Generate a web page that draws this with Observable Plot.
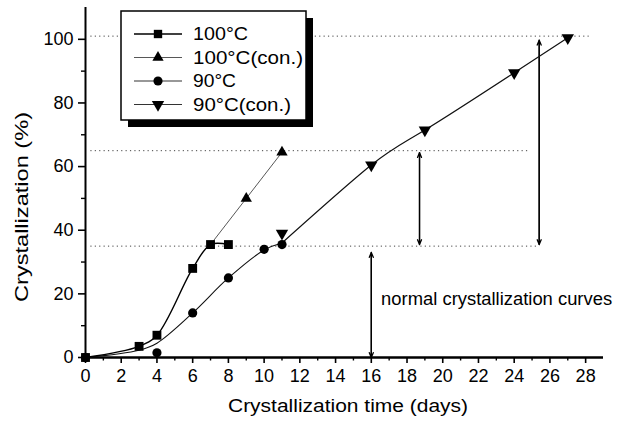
<!DOCTYPE html>
<html><head><meta charset="utf-8">
<script src="https://cdn.jsdelivr.net/npm/d3@7"></script>
<script src="https://cdn.jsdelivr.net/npm/@observablehq/plot@0.6"></script>
<style>body{margin:0;background:#fff}</style>
</head><body><div id="chart"></div>
<script>
// ---- data ----
const days100 = [0, 3, 4, 6, 7, 8];
const cryst100 = [0, 3.5, 7, 28, 35.5, 35.5];
const days100con = [9, 11];
const cryst100con = [50, 64.5];
const days90 = [0, 4, 6, 8, 10, 11];
const cryst90 = [0, 1.5, 14, 25, 34, 35.5];
const curve90Days = [0, 3, 4, 6, 8, 10, 11];
const curve90Cryst = [0, 2.3, 4.5, 14, 25, 33.8, 36];
const days90con = [11, 16, 19, 24, 27];
const cryst90con = [39, 60.5, 71.5, 89.5, 100.5];

const refLevels = [101, 65, 35];
const refEnds = [28.2, 24.9, 25.4];
const arrowX = [16, 18.7, 25.4];
const arrowFrom = [0, 35.5, 35.5];
const arrowTo = [33, 64.4, 99.7];

const majorX = d3.range(0, 29, 2);
const minorX = d3.range(1, 29, 2);
const majorY = [0, 20, 40, 60, 80, 100];
const minorY = [10, 30, 50, 70, 90];

const seriesNames = ["100°C", "100°C(con.)", "90°C", "90°C(con.)"];
const annText = "normal crystallization curves";
const annX = 16.55, annY = 18.3;
const xTitle = "Crystallization time (days)";
const yTitle = "Crystallization (%)";

// ---- tables ----
const zip = (xs, ys) => xs.map((x, i) => ({x, y: ys[i]}));
const s100 = zip(days100, cryst100);
const s100con = zip(days100con, cryst100con);
const s90 = zip(days90, cryst90);
const c90 = zip(curve90Days, curve90Cryst);
const s90con = zip(days90con, cryst90con);
const l100con = [s100[s100.length - 2], ...s100con];
const l90con = [c90[c90.length - 1], ...s90con.slice(1)];
const refs = refLevels.map((y, i) => ({y, x1: 0.3, x2: refEnds[i]}));
const arrows = arrowX.map((x, i) => ({x, y1: arrowFrom[i], y2: arrowTo[i]}));

const FONT = "'Liberation Sans', Arial, Helvetica, sans-serif";

const chart = Plot.plot({
  width: 627, height: 423,
  marginLeft: 85, marginRight: 24, marginTop: 7, marginBottom: 66,
  style: {fontFamily: FONT, fontSize: "18px", background: "#fff", color: "#000"},
  x: {domain: [0, 29], axis: null},
  y: {domain: [0, 110], axis: null},
  marks: [
    Plot.ruleY(refs, {y: "y", x1: "x1", x2: "x2", stroke: "#444", strokeWidth: 1, strokeDasharray: "1.2,3.2"}),
    Plot.axisX({ticks: majorX, tickSize: 6, tickPadding: 6, strokeWidth: 1.6, label: null, tickFormat: d => d, fontSize: 18}),
    Plot.axisX({ticks: minorX, tickSize: 3.5, strokeWidth: 1.4, label: null, tickFormat: () => ""}),
    Plot.axisY({ticks: majorY, tickSize: 7, tickPadding: 5, strokeWidth: 1.6, label: null, tickFormat: d => d, fontSize: 18}),
    Plot.axisY({ticks: minorY, tickSize: 4, strokeWidth: 1.4, label: null, tickFormat: () => ""}),
    Plot.ruleX([0], {y1: 0, y2: 110, strokeWidth: 2}),
    Plot.ruleY([0], {x1: 0, x2: 29, strokeWidth: 2.5}),
    Plot.arrow(arrows, {x1: "x", x2: "x", y1: "y1", y2: "y2", headLength: 6, headAngle: 45, strokeWidth: 1.3, stroke: "#000"}),
    Plot.arrow(arrows, {x1: "x", x2: "x", y1: "y2", y2: "y1", headLength: 6, headAngle: 45, strokeWidth: 1.3, stroke: "#000"}),
    Plot.line(l100con, {x: "x", y: "y", stroke: "#444", strokeWidth: 0.9}),
    Plot.line(c90, {x: "x", y: "y", stroke: "#111", strokeWidth: 1.1, curve: "catmull-rom"}),
    Plot.line(l90con, {x: "x", y: "y", stroke: "#111", strokeWidth: 1.2, curve: "natural"}),
    Plot.line(s100, {x: "x", y: "y", stroke: "#000", strokeWidth: 1.4, curve: "catmull-rom"}),
    Plot.dot(s100con, {x: "x", y: "y", symbol: "triangle", r: 4.2, fill: "#000"}),
    Plot.dot(s90con, {x: "x", y: "y", symbol: "triangle", r: 4.6, fill: "#000", rotate: 180}),
    Plot.dot(s90, {x: "x", y: "y", symbol: "circle", r: 4.6, fill: "#000"}),
    Plot.dot(s100, {x: "x", y: "y", symbol: "square", r: 5, fill: "#000"}),
    Plot.text([annText], {x: annX, y: annY, text: d => d, textAnchor: "start", fontSize: 17.5, fill: "#000"})
  ]
});
document.getElementById("chart").appendChild(chart);

const svg = d3.select(chart);
svg.selectAll("text").filter(function () { return this.textContent === annText; })
  .attr("textLength", 231).attr("lengthAdjust", "spacingAndGlyphs");

// axis titles
svg.append("text").attr("x", 348).attr("y", 412).attr("text-anchor", "middle")
  .attr("font-family", FONT).attr("font-size", 17.5).attr("fill", "#000")
  .attr("textLength", 240).attr("lengthAdjust", "spacingAndGlyphs").text(xTitle);
svg.append("text").attr("transform", "translate(28,207) rotate(-90)").attr("text-anchor", "middle")
  .attr("font-family", FONT).attr("font-size", 18).attr("fill", "#000")
  .attr("textLength", 190).attr("lengthAdjust", "spacingAndGlyphs").text(yTitle);

// legend
const lg = svg.append("g");
lg.append("rect").attr("x", 128).attr("y", 18).attr("width", 185).attr("height", 109).attr("fill", "#000");
lg.append("rect").attr("x", 121).attr("y", 11).attr("width", 185).attr("height", 109)
  .attr("fill", "#fff").attr("stroke", "#000").attr("stroke-width", 1.5);
const legendWidths = [55, 110, 43, 98];
const legendSym = [
  {t: d3.symbolSquare, s: 70, rot: 0, stroke: "#000", w: 1.4},
  {t: d3.symbolTriangle, s: 55, rot: 0, stroke: "#444", w: 0.9},
  {t: d3.symbolCircle, s: 66, rot: 0, stroke: "#333", w: 1.1},
  {t: d3.symbolTriangle, s: 66, rot: 180, stroke: "#333", w: 1.2}
];
seriesNames.forEach((name, i) => {
  const cy = 34 + i * 23.5;
  lg.append("line").attr("x1", 134).attr("x2", 182).attr("y1", cy).attr("y2", cy)
    .attr("stroke", legendSym[i].stroke).attr("stroke-width", legendSym[i].w);
  lg.append("path").attr("d", d3.symbol(legendSym[i].t, legendSym[i].s)())
    .attr("transform", `translate(158,${cy}) rotate(${legendSym[i].rot})`).attr("fill", "#000");
  lg.append("text").attr("x", 193).attr("y", cy).attr("dy", "0.36em").attr("text-anchor", "start")
    .attr("font-family", FONT).attr("font-size", 18).attr("fill", "#000")
    .attr("textLength", legendWidths[i]).attr("lengthAdjust", "spacingAndGlyphs").text(name);
});
</script>
</body></html>
